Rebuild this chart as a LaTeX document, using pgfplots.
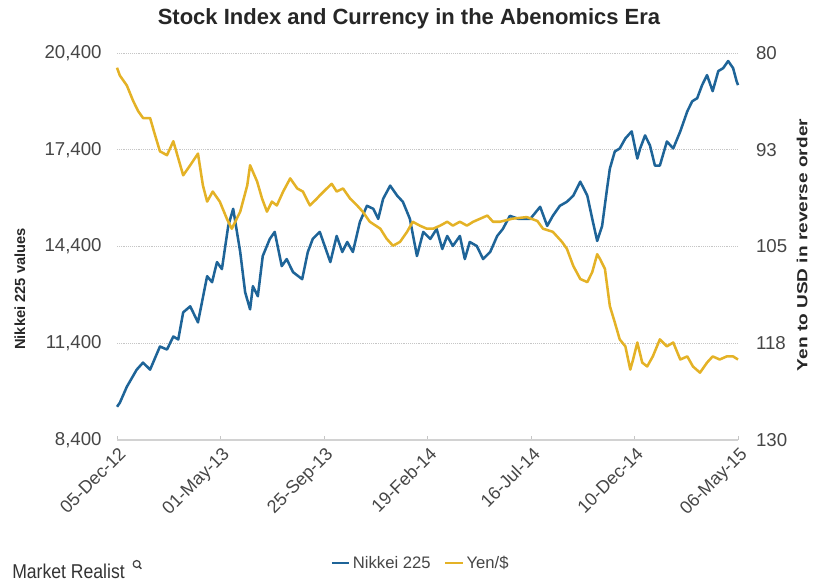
\documentclass[border=0pt]{standalone}
\usepackage{fontspec}
\setmainfont{Liberation Sans}
\usepackage{pgfplots}
\pgfplotsset{compat=1.18}
\definecolor{nikblue}{RGB}{30,100,152}
\definecolor{yenyel}{RGB}{228,178,38}
\definecolor{tickgray}{RGB}{70,70,70}
\begin{document}
\begin{tikzpicture}
\useasboundingbox (0,0) rectangle (612.75pt,436.5pt);
\begin{axis}[
  name=main, at={(87.75pt,106.5pt)}, anchor=south west,
  scale only axis, width=465.75pt, height=290.25pt,
  xmin=0, xmax=882, ymin=8400, ymax=20400,
  scaled y ticks=false, scaled x ticks=false,
  axis x line*=bottom, axis y line*=left,
  x axis line style={draw=gray!35, line width=0.8pt},
  y axis line style={draw=none},
  xtick={0,147,294,441,588,735,882},
  xticklabels={05-Dec-12,01-May-13,25-Sep-13,19-Feb-14,16-Jul-14,10-Dec-14,06-May-15},
  xtick style={draw=gray!45, line width=0.6pt},
  major tick length=3pt,
  xticklabel style={rotate=45, anchor=north east, font=\fontsize{13.5}{13.5}\selectfont, text=tickgray, inner sep=0.5pt, yshift=-3pt, xshift=-2pt},
  ytick={8400,11400,14400,17400,20400},
  yticklabels={{8,400},{11,400},{14,400},{17,400},{20,400}},
  ytick style={draw=none},
  yticklabel style={font=\fontsize{14}{14}\selectfont, text=tickgray, anchor=east, xshift=-8pt},
  ymajorgrids, grid style={densely dotted, gray!45, line width=0.6pt},
  clip=false,
]
\addplot[nikblue, line width=1.9pt, line join=round] table {
0 9430
4 9553
14 10052
28 10582
37 10800
47 10582
61 11299
71 11205
80 11610
87 11517
94 12358
104 12545
115 12047
128 13480
135 13293
142 13917
149 13699
158 15039
165 15569
175 14229
182 12982
189 12452
193 13169
200 12857
207 14104
217 14634
224 14852
234 13792
241 14010
250 13605
263 13387
271 14229
278 14634
288 14852
295 14416
303 13917
312 14727
320 14229
327 14540
335 14229
345 15164
355 15662
364 15569
371 15257
378 15880
388 16286
398 15974
406 15787
416 15257
426 14104
435 14852
445 14634
454 14945
462 14322
469 14727
477 14416
487 14727
494 14010
501 14540
511 14416
520 14010
530 14229
540 14727
548 14945
558 15351
570 15257
587 15257
601 15631
611 15039
619 15351
629 15662
639 15787
648 15974
658 16410
668 15974
675 15257
682 14571
689 15039
696 16192
700 16816
707 17345
714 17439
722 17751
731 17969
739 17127
743 17439
750 17844
757 17532
764 16909
771 16909
781 17657
790 17439
800 17969
810 18592
817 18904
824 18997
831 19403
838 19714
846 19216
854 19839
861 19932
868 20151
875 19932
880 19527
882 19403
};
\end{axis}
\begin{axis}[
  at={(87.75pt,106.5pt)}, anchor=south west,
  scale only axis, width=465.75pt, height=290.25pt,
  xmin=0, xmax=882, ymin=80, ymax=130, y dir=reverse,
  scaled y ticks=false,
  hide x axis,
  axis y line*=right,
  y axis line style={draw=none},
  ytick={80,92.5,105,117.5,130},
  yticklabels={80,93,105,118,130},
  ytick style={draw=none},
  yticklabel style={font=\fontsize{14}{14}\selectfont, text=tickgray, anchor=west, xshift=10pt},
  legend style={at={(0.4895,-0.318)}, anchor=center, draw=none, fill=none,
    legend columns=2, font=\fontsize{12.5}{12.5}\selectfont, text=tickgray,
    /tikz/every even column/.append style={column sep=8pt}},
  legend image code/.code={\draw[#1] (0pt,0pt) -- (13pt,0pt);},
  legend cell align=left,
  clip=false,
]
\addlegendimage{nikblue, line width=1.6pt}
\addlegendentry{Nikkei 225}
\addplot[yenyel, line width=1.9pt, line join=round] table {
0 81.9
4 82.9
14 84.2
23 86.2
30 87.5
37 88.4
47 88.4
54 90.6
61 92.7
71 93.2
80 91.4
87 93.6
94 95.8
104 94.5
115 93.0
122 97.1
128 99.2
136 97.9
146 99.2
156 101.4
163 102.7
175 100.5
185 97.1
189 94.5
199 96.6
206 98.8
213 100.5
220 99.2
227 99.7
236 97.9
246 96.2
256 97.5
264 97.9
274 99.7
284 98.8
288 98.4
298 97.5
305 96.9
312 97.9
321 97.5
331 98.8
341 99.7
349 100.5
359 101.8
374 102.7
383 104.0
392 104.9
402 104.4
412 103.1
420 101.8
430 102.3
440 102.7
449 102.7
459 102.3
469 101.8
477 102.3
487 101.8
497 102.3
506 101.8
516 101.4
526 101.0
534 101.8
544 101.8
562 101.4
582 101.2
597 101.7
605 102.7
619 103.1
632 104.4
639 105.3
648 107.5
658 109.2
668 109.6
675 108.3
682 106.0
686 106.6
693 107.9
700 112.7
707 114.8
714 117.0
722 117.9
729 120.9
733 119.6
739 117.4
746 120.0
753 120.5
761 119.2
771 117.0
781 117.9
790 117.4
800 119.6
810 119.2
818 120.5
828 121.3
838 120.0
846 119.2
856 119.6
866 119.2
875 119.2
882 119.6
};
\addlegendentry{Yen/\$}
\end{axis}
\node[font=\bfseries\fontsize{16.5}{16.5}\selectfont, text=black!85] at (306.75pt,422.5pt) {Stock Index and Currency in the Abenomics Era};
\node[rotate=90, font=\bfseries\fontsize{11}{11}\selectfont, text=black!85] at (15pt,219.75pt) {Nikkei 225 values};
\node[rotate=90, font=\bfseries\fontsize{11}{11}\selectfont, text=black!85] at (601.5pt,252.75pt) {\scalebox{1.3}[1]{Yen to USD in reverse order}};
\node[anchor=base west, font=\fontsize{15}{15}\selectfont, text=black!80, inner sep=0pt] at (9pt,3pt) {\scalebox{0.88}[1]{Market Realist}};
\draw[black!75, line width=0.9pt] (102.5pt,13.5pt) circle (2.6pt);
\draw[black!75, line width=1.1pt] (104.3pt,11.7pt) -- (106pt,9.9pt);
\end{tikzpicture}
\end{document}
